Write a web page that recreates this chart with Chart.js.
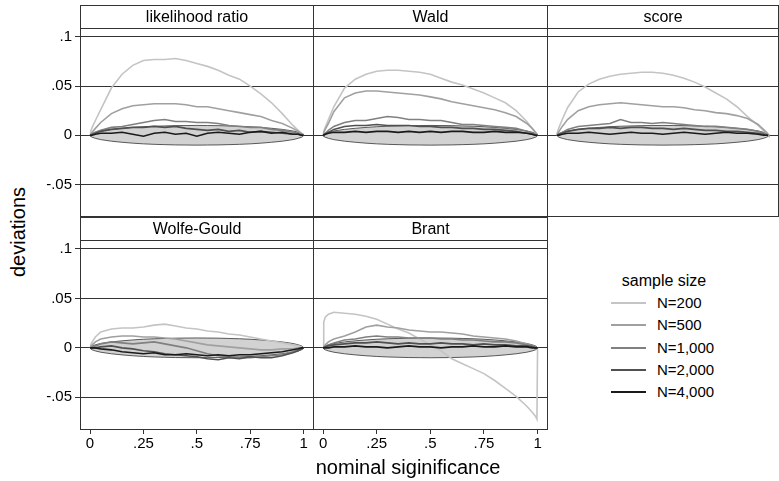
<!DOCTYPE html>
<html>
<head>
<meta charset="utf-8">
<script src="https://cdn.jsdelivr.net/npm/chart.js@4"></script>
<style>
  body { margin: 0; width: 779px; height: 481px; overflow: hidden; position: relative; background: #fff;
         font-family: "Liberation Sans", Arial, sans-serif; color: #000; }
  .abs   { position: absolute; }
  .frame { position: absolute; border: 1px solid #333; box-sizing: border-box; pointer-events: none; }
  .strip { position: absolute; left: 0; right: 0; top: 0; height: 22px; border-bottom: 1px solid #333;
           text-align: center; font-size: 16px; line-height: 22px; }
  .legline { position: absolute; height: 2px; width: 35px; left: 611px; }
  .legtxt  { position: absolute; left: 657px; font-size: 15px; line-height: 16px; }
</style>
</head>
<body>
<script>
// ─────────────────────────────────────────
//  DATA
// ─────────────────────────────────────────
const P = [0, .003, .01, .025, .05, .1, .15, .2, .25, .3, .35, .4, .45, .5,
           .55, .6, .65, .7, .75, .8, .85, .9, .95, .975, .99, .997, 1];

const TITLES   = ['likelihood ratio', 'Wald', 'score', 'Wolfe-Gould', 'Brant'];
const SIZES    = ['N=200', 'N=500', 'N=1,000', 'N=2,000', 'N=4,000'];
const X_TICKS  = [0, .25, .5, .75, 1];
const X_LABELS = ['0', '.25', '.5', '.75', '1'];
const Y_TICKS  = [-.05, 0, .05, .1];
const Y_LABELS = ['-.05', '0', '.05', '.1'];

// grey acceptance band around zero
const BAND_UP = [0, .0011, .002, .0031, .0044, .006, .0071, .008, .0087, .0092, .0095, .0098, .0099, .01,
                 .0099, .0098, .0095, .0092, .0087, .008, .0071, .006, .0044, .0031, .002, .0011, 0];
const BAND_LO = [0, -.0011, -.002, -.0031, -.0044, -.006, -.0071, -.008, -.0087, -.0092, -.0095, -.0098, -.0099, -.01,
                 -.0099, -.0098, -.0095, -.0092, -.0087, -.008, -.0071, -.006, -.0044, -.0031, -.002, -.0011, 0];

// one row per sample size: N=200, 500, 1000, 2000, 4000
const LR = [
  [0, .004, .008, .015, .026, .048, .062, .071, .076, .077, .077, .078, .076, .073, .070, .066, .061, .057, .050, .042, .033, .022, .010, .005, .002, .001, 0],
  [0, .001, .003, .007, .013, .022, .027, .030, .031, .032, .032, .032, .031, .029, .029, .027, .025, .023, .021, .019, .015, .012, .007, .004, .002, .001, 0],
  [0, 0, .001, .003, .005, .008, .009, .011, .013, .015, .016, .014, .014, .013, .013, .012, .010, .009, .008, .008, .006, .005, .003, .002, .001, 0, 0],
  [0, 0, .001, .002, .004, .006, .007, .008, .008, .009, .008, .009, .007, .006, .005, .006, .004, .005, .003, .004, .003, .002, .001, .001, 0, 0, 0],
  [0, 0, 0, .001, .002, .002, .003, .001, -.001, .002, .003, .001, .002, -.001, .002, .003, .002, .001, .003, .004, .002, .003, .001, .001, 0, 0, 0],
];
const WALD = [
  [0, .004, .008, .016, .029, .048, .057, .062, .065, .066, .066, .065, .064, .062, .058, .054, .051, .047, .043, .038, .033, .025, .014, .007, .003, .001, 0],
  [0, .003, .006, .012, .024, .038, .043, .045, .045, .044, .043, .042, .041, .039, .037, .034, .032, .030, .028, .026, .023, .019, .012, .007, .003, .001, 0],
  [0, .001, .002, .005, .009, .013, .015, .015, .017, .019, .018, .016, .016, .015, .015, .013, .011, .011, .010, .009, .008, .007, .004, .002, .001, 0, 0],
  [0, 0, .001, .003, .006, .009, .010, .010, .011, .010, .010, .010, .009, .009, .008, .008, .007, .007, .006, .006, .005, .004, .002, .001, 0, 0, 0],
  [0, 0, .001, .002, .003, .003, .004, .003, .004, .004, .003, .004, .003, .004, .003, .004, .004, .003, .003, .004, .003, .003, .002, .001, 0, 0, 0],
];
const SCORE = [
  [0, .004, .008, .016, .028, .044, .052, .057, .060, .062, .063, .064, .064, .063, .061, .058, .054, .049, .043, .037, .029, .019, .010, .005, .002, .001, 0],
  [0, .002, .004, .009, .016, .025, .029, .031, .032, .033, .032, .031, .030, .029, .029, .028, .026, .025, .023, .022, .020, .017, .011, .006, .003, .001, 0],
  [0, 0, .001, .003, .006, .009, .010, .011, .012, .016, .013, .013, .012, .013, .012, .011, .010, .009, .009, .008, .007, .006, .004, .002, .001, 0, 0],
  [0, 0, .001, .002, .004, .006, .007, .007, .008, .007, .008, .008, .007, .007, .006, .007, .006, .005, .005, .004, .004, .003, .002, .001, 0, 0, 0],
  [0, 0, 0, .001, .002, .002, .003, .002, .001, .002, .003, .002, .002, .001, .002, .003, .002, .001, .002, .003, .002, .002, .001, 0, 0, 0, 0],
];
const WOLFE = [
  [0, .003, .006, .011, .016, .019, .020, .020, .021, .023, .024, .022, .020, .019, .017, .016, .014, .013, .011, .009, .007, .005, .003, .002, .001, 0, 0],
  [0, .001, .003, .006, .009, .011, .012, .012, .011, .011, .010, .009, .007, .005, .003, .002, .001, 0, -.001, -.002, -.002, -.001, -.001, 0, 0, 0, 0],
  [0, 0, .001, .002, .004, .006, .005, .004, .005, .006, .004, .002, 0, -.003, -.006, -.008, -.009, -.010, -.010, -.009, -.008, -.007, -.004, -.002, -.001, 0, 0],
  [0, 0, 0, 0, .001, .002, 0, -.001, -.003, -.004, -.006, -.007, -.008, -.009, -.011, -.012, -.010, -.011, -.009, -.010, -.010, -.008, -.005, -.003, -.001, 0, 0],
  [0, 0, 0, 0, -.001, -.002, -.004, -.005, -.006, -.005, -.007, -.007, -.006, -.007, -.008, -.007, -.008, -.007, -.007, -.006, -.005, -.004, -.002, -.001, 0, 0, 0],
];
const BRANT = [
  [0, .026, .031, .034, .036, .035, .034, .032, .029, .024, .019, .015, .009, .003, -.003, -.011, -.016, -.021, -.026, -.033, -.041, -.049, -.059, -.065, -.069, -.072, 0],
  [0, .001, .003, .006, .009, .012, .016, .021, .023, .021, .020, .018, .017, .016, .016, .015, .014, .012, .011, .010, .009, .007, .004, .002, .001, 0, 0],
  [0, 0, .001, .003, .005, .008, .009, .011, .012, .011, .011, .010, .010, .010, .009, .009, .008, .008, .007, .006, .006, .005, .003, .002, .001, 0, 0],
  [0, 0, .001, .002, .003, .004, .005, .005, .006, .005, .004, .005, .004, .004, .005, .004, .004, .003, .004, .003, .003, .002, .002, .001, 0, 0, 0],
  [0, 0, 0, 0, .001, .001, .002, .001, .001, 0, .001, .002, .001, .001, 0, .001, .001, .002, .001, .001, .002, .001, .001, 0, 0, 0, 0],
];
const PANEL_DATA = [LR, WALD, SCORE, WOLFE, BRANT];

// ─────────────────────────────────────────
//  STYLE / LAYOUT
// ─────────────────────────────────────────
const FONT     = '"Liberation Sans", Arial, sans-serif';
const COLORS   = ['#c4c4c4', '#a0a0a0', '#808080', '#505050', '#1a1a1a'];
const GRID     = '#333';
const X_RANGE  = [-0.047, 1.044];
const Y_RANGE  = [-0.082, 0.110];
const STRIP_H  = 22;
const AXIS_W   = 50;   // room for y tick labels
const AXIS_H   = 28;   // room for x tick labels

// plot areas (page pixels)
const BOXES = [
  { x0: 80,  x1: 313, y0: 27,  y1: 216, yl: true,  xl: false },
  { x0: 313, x1: 547, y0: 27,  y1: 216, yl: false, xl: false },
  { x0: 547, x1: 778, y0: 27,  y1: 216, yl: false, xl: false },
  { x0: 80,  x1: 313, y0: 239, y1: 429, yl: true,  xl: true  },
  { x0: 313, x1: 547, y0: 239, y1: 429, yl: false, xl: true  },
];

function el(tag, cls, css, text) {
  const d = document.createElement(tag);
  if (cls) d.className = cls;
  Object.assign(d.style, css || {});
  if (text != null) d.textContent = text;
  document.body.appendChild(d);
  return d;
}

const pts = ys => P.map((x, i) => ({ x, y: ys[i] }));

// ─────────────────────────────────────────
//  PANELS
// ─────────────────────────────────────────
BOXES.forEach((b, i) => {
  const padL = b.yl ? AXIS_W : 0;
  const padB = b.xl ? AXIS_H : 0;
  const w = b.x1 - b.x0 + padL;
  const h = b.y1 - b.y0 + padB;

  const cv = el('canvas', 'abs', { left: (b.x0 - padL) + 'px', top: b.y0 + 'px' });
  cv.width = w; cv.height = h;

  const datasets = [
    { data: pts(BAND_UP), borderColor: '#333', borderWidth: 0.8, backgroundColor: '#d2d2d2',
      fill: '+1', pointRadius: 0, tension: 0, order: 20 },
    { data: pts(BAND_LO), borderColor: '#333', borderWidth: 0.8, fill: false,
      pointRadius: 0, tension: 0, order: 19 },
  ];
  PANEL_DATA[i].forEach((ys, k) => {
    datasets.push({
      label: SIZES[k], data: pts(ys), borderColor: COLORS[k], borderWidth: 1.6,
      fill: false, pointRadius: 0, tension: 0, order: 10 - k,
    });
  });

  new Chart(cv, {
    type: 'line',
    data: { datasets },
    options: {
      responsive: false,
      animation: false,
      devicePixelRatio: 1,
      layout: { padding: 0 },
      plugins: { legend: { display: false }, tooltip: { enabled: false } },
      scales: {
        x: {
          type: 'linear', min: X_RANGE[0], max: X_RANGE[1], display: b.xl,
          afterBuildTicks: s => { s.ticks = X_TICKS.map(v => ({ value: v })); },
          afterFit: s => {
            s.height = b.xl ? AXIS_H : 0;
            s.paddingLeft = 0; s.paddingRight = 0;
          },
          grid: { drawOnChartArea: false, tickLength: 5, color: GRID },
          border: { display: false },
          ticks: { autoSkip: false, maxRotation: 0, padding: 1, color: '#000',
                   font: { size: 15, family: FONT },
                   callback: v => X_LABELS[X_TICKS.indexOf(v)] },
        },
        y: {
          type: 'linear', min: Y_RANGE[0], max: Y_RANGE[1],
          afterBuildTicks: s => { s.ticks = Y_TICKS.map(v => ({ value: v })); },
          afterFit: s => {
            s.width = b.yl ? AXIS_W : 0;
            s.paddingTop = 0; s.paddingBottom = 0;
          },
          grid: { color: GRID, lineWidth: 1, drawTicks: b.yl, tickLength: 5 },
          border: { display: false },
          ticks: { display: b.yl, padding: 3, color: '#000',
                   font: { size: 15, family: FONT },
                   callback: v => Y_LABELS[Y_TICKS.indexOf(v)] },
        },
      },
    },
  });

  // frame + title strip
  const top = b.y0 - STRIP_H;
  const fr = el('div', 'frame', {
    left: b.x0 + 'px', top: top + 'px',
    width: (b.x1 - b.x0 + 1) + 'px', height: (b.y1 - top + 1) + 'px',
  });
  const st = document.createElement('div');
  st.className = 'strip';
  st.textContent = TITLES[i];
  fr.appendChild(st);
});

// ─────────────────────────────────────────
//  AXIS TITLES + LEGEND
// ─────────────────────────────────────────
el('div', 'abs', { left: '-32px', top: '222px', width: '100px', textAlign: 'center',
                   fontSize: '20px', lineHeight: '20px', transform: 'rotate(-90deg)' }, 'deviations');
el('div', 'abs', { left: '258px', top: '457px', width: '300px', textAlign: 'center',
                   fontSize: '20px', lineHeight: '20px' }, 'nominal siginificance');

el('div', 'abs', { left: '594px', top: '272px', width: '140px', textAlign: 'center',
                   fontSize: '16px', lineHeight: '18px' }, 'sample size');
const LEG_Y = [303, 325, 348, 370, 392];
SIZES.forEach((s, k) => {
  el('div', 'legline', { top: (LEG_Y[k] - 1) + 'px', background: COLORS[k] });
  el('div', 'legtxt', { top: (LEG_Y[k] - 8) + 'px' }, s);
});
</script>
</body>
</html>
